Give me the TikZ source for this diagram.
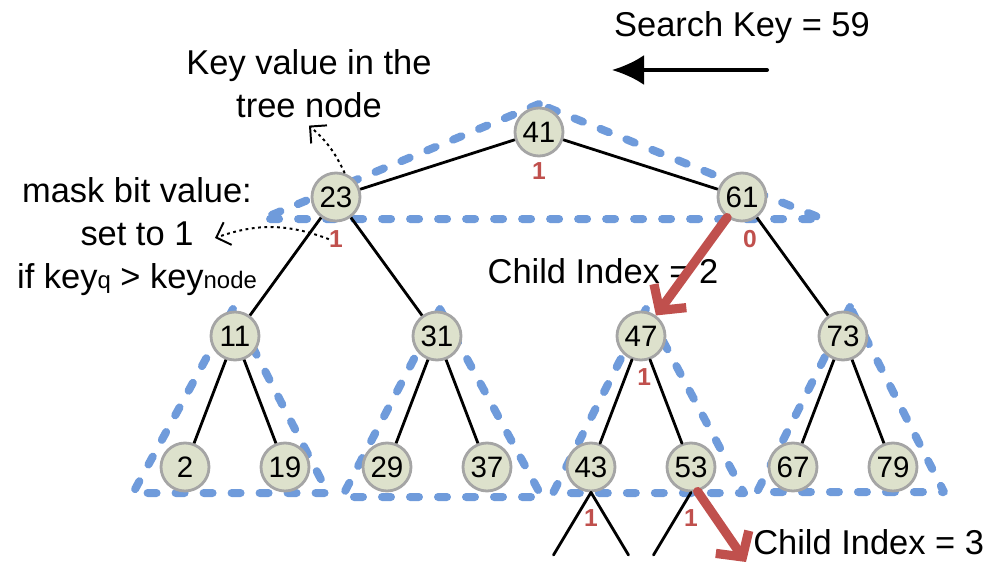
\documentclass[tikz,border=0pt]{standalone}
\usepackage{fontspec}
\setmainfont{Liberation Sans}
\usetikzlibrary{calc}
\usetikzlibrary{arrows.meta}
\definecolor{maskred}{HTML}{C0504D}
\definecolor{groupblue}{HTML}{6F9BDB}
\definecolor{keyfill}{HTML}{DDE1CC}
\definecolor{keyline}{HTML}{A5A5A5}

\begin{document}
\begin{tikzpicture}[
        keynode/.style={draw=keyline, fill=keyfill, circle, line width=2pt, minimum size=1.2cm, inner sep=0pt, font=\fontsize{21}{21}\selectfont},
        maskbit/.style={text=maskred, inner sep=0pt, font=\fontsize{17.5}{17.5}\selectfont\bfseries},
        group/.style={draw=groupblue, line width=0.2cm, line cap=round, line join=round, dash pattern=on 0.225cm off 0.475cm},
        pointer/.style={line width=1.4pt, dash pattern=on 2pt off 2.5pt, -{Straight Barb[length=0.3cm,width=0.6cm]}},
        redarrow/.style={draw=maskred, line width=0.23cm, line cap=round, -{Straight Barb[length=0.45cm,width=1cm]}},
        caption/.style={font=\fontsize{24.5}{30.5}\selectfont, inner sep=0.2cm, align=center}
      ]
    \useasboundingbox (-13.475,3.3) rectangle (11.275,-10.725);

    \node[caption, anchor=base] (searchkey) at (5.075,2.4) {Search Key = 59};
    \coordinate (keyfrom) at (5.7,1.55);
    \coordinate (keyto) at (1.825,1.55);
    \node[caption, anchor=base] (keytext) at (-5.75,0.375) {Key value in the\\tree node};
    \node[caption, anchor=base] (masktext) at (-10.05,-3.9)
      {mask bit value:\\set to 1\\if key{\fontsize{17}{17}\selectfont q} > key{\fontsize{17}{17}\selectfont node}};
    \coordinate (masktip) at (-8.1,-2.65);
    \node[caption, anchor=base] (child2) at (1.6,-3.775) {Child Index = 2};
    \node[caption, anchor=base west, inner sep=0pt] (child3) at (5.35,-10.57) {Child Index = 3};

    % groups of the tree
    \draw[group] (0,0.7) -- (-6.925,-2.175) -- (7.1,-2.175) -- cycle;
    \draw[group] (-7.65,-4.425) -- (-10.15,-9.025) -- (-5.275,-9.025) -- cycle;
    \draw[group] (-2.475,-4.425) -- (-4.925,-9.125) -- (0.075,-9.125) -- cycle;
    \draw[group] (2.675,-4.425) -- (0.35,-9.025) -- (5.125,-9.025) -- cycle;
    \draw[group] (7.775,-4.375) -- (5.45,-9.0) -- (10.125,-9.0) -- cycle;

    \begin{scope}[
        edge from parent/.style={draw=black, line width=2pt},
        level 1/.style={sibling distance=10.15cm, level distance=1.625cm},
        level 2/.style={sibling distance=5.05cm, level distance=3.475cm},
        level 3/.style={sibling distance=2.5cm, level distance=3.275cm},
        level 4/.style={sibling distance=1.875cm, level distance=2.2cm,
          edge from parent path={(\tikzparentnode.south) -- (\tikzchildnode)}}
      ]
    \node[keynode, label={[maskbit,label distance=0.12cm]below:1}] (n41) {41}
      child {
        node[keynode, label={[maskbit,name=m23,label distance=0.2cm]below:1}] (n23) {23}
        child {
          node[keynode] (n11) {11}
          child { node[keynode] (n2) {2} }
          child { node[keynode] (n19) {19} }
        }
        child {
          node[keynode] (n31) {31}
          child { node[keynode] (n29) {29} }
          child { node[keynode] (n37) {37} }
        }
      }
      child {
        node[keynode, label={[maskbit,xshift=0.2cm,label distance=0.2cm]below:0}] (n61) {61}
        child {
          node[keynode, label={[maskbit,xshift=0.08cm,label distance=0.18cm]below:1}] (n47) {47}
          child {
            node[keynode, label={[maskbit,label distance=0.43cm]below:1}] (n43) {43}
            child { coordinate (k43a) }
            child { coordinate (k43b) }
          }
          child {
            node[keynode, label={[maskbit,label distance=0.43cm]below:1}] (n53) {53}
            child { coordinate (k53a) }
            child[missing]
          }
          edge from parent[redarrow]
        }
        child {
          node[keynode] (n73) {73}
          child { node[keynode] (n67) {67} }
          child { node[keynode] (n79) {79} }
        }
      };
    \end{scope}

    \coordinate (k53r) at (5.175,-10.75);
    \draw[redarrow] (n53.-75) -- (k53r);

    \draw[line width=0.1cm, line cap=round, -{Latex[length=0.8cm,width=0.75cm]}] (keyfrom) -- (keyto);
    \draw[pointer] (n23.70) to[bend right=12] (keytext.south);
    \draw[pointer] (m23.west) to[bend right=20] (masktip);

    \end{tikzpicture}
\end{document}
